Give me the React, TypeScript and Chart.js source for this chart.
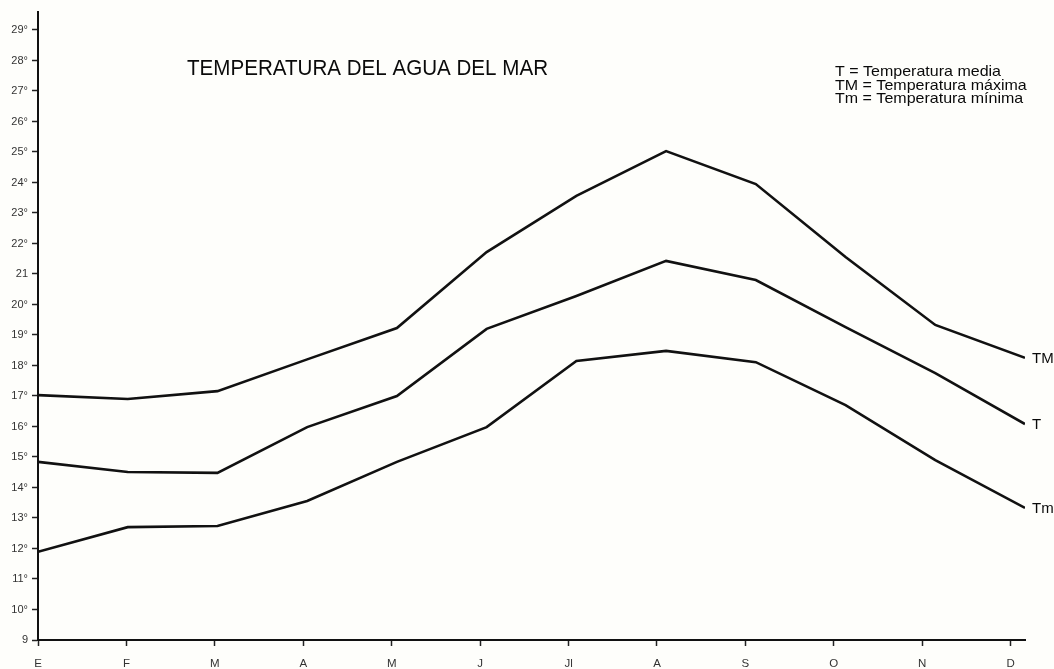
import React, { useEffect, useRef } from "react";
import { Chart, registerables } from "chart.js";

Chart.register(...registerables);

const months = ["E", "F", "M", "A", "M", "J", "Jl", "A", "S", "O", "N", "D"];
const tempMax = [17.03, 16.9, 17.16, 18.2, 19.23, 21.72, 23.56, 25.03, 23.95, 21.56, 19.33, 18.25];
const tempMedia = [14.84, 14.51, 14.48, 15.98, 17.0, 19.2, 20.28, 21.43, 20.8, 19.26, 17.75, 16.08];
const tempMin = [11.89, 12.7, 12.74, 13.56, 14.84, 15.98, 18.15, 18.48, 18.11, 16.7, 14.9, 13.33];
const seriesNames = ["TM", "T", "Tm"];
const yTickValues = [9, 10, 11, 12, 13, 14, 15, 16, 17, 18, 19, 20, 21, 22, 23, 24, 25, 26, 27, 28, 29];
const yTickLabels = ["9", "10°", "11°", "12°", "13°", "14°", "15°", "16°", "17°", "18°", "19°", "20°", "21", "22°", "23°", "24°", "25°", "26°", "27°", "28°", "29°"];
const title = "TEMPERATURA DEL AGUA DEL MAR";
const legendLines = ["T = Temperatura media", "TM = Temperatura máxima", "Tm = Temperatura mínima"];

const FONT = "'Liberation Sans', Arial, Helvetica, sans-serif";
const TICK_SPREAD = 0.9855;

export default function App() {
  const ref = useRef<HTMLCanvasElement | null>(null);

  useEffect(() => {
    const canvas = ref.current;
    if (!canvas) return;

    const decor = {
      id: "decor",
      beforeDraw(chart: any) {
        const ctx = chart.ctx;
        ctx.save();
        ctx.fillStyle = "#fefefb";
        ctx.fillRect(0, 0, chart.width, chart.height);
        ctx.restore();
      },
      afterDraw(chart: any) {
        const ctx = chart.ctx;
        ctx.save();
        ctx.fillStyle = "#0a0a0a";
        ctx.textBaseline = "alphabetic";
        ctx.textAlign = "left";
        // title, slightly condensed
        ctx.font = `22px ${FONT}`;
        const tw = ctx.measureText(title).width;
        ctx.save();
        ctx.translate(187, 75);
        ctx.scale(361 / tw, 1);
        ctx.fillText(title, 0, 0);
        ctx.restore();
        // legend
        ctx.font = `15px ${FONT}`;
        const lw = ctx.measureText(legendLines[0]).width;
        const k = 166 / lw;
        legendLines.forEach((t, i) => {
          ctx.save();
          ctx.translate(835, 76 + i * 13.5);
          ctx.scale(k, 1);
          ctx.fillText(t, 0, 0);
          ctx.restore();
        });
        // right end labels
        ctx.font = `15px ${FONT}`;
        ctx.textBaseline = "middle";
        chart.data.datasets.forEach((ds: any, di: number) => {
          const meta = chart.getDatasetMeta(di);
          const last = meta.data[meta.data.length - 1];
          ctx.fillText(seriesNames[di], last.x + 7, last.y + 1);
        });
        ctx.restore();
      },
    };

    const mk = (arr: number[]) => arr.map((v, i) => ({ x: i, y: v }));
    const lineStyle = {
      borderColor: "#111",
      borderWidth: 2.6,
      pointRadius: 0,
      tension: 0,
      fill: false,
    };

    const chart = new Chart(canvas, {
      type: "line",
      data: {
        datasets: [
          { label: "TM", data: mk(tempMax), ...lineStyle },
          { label: "T", data: mk(tempMedia), ...lineStyle },
          { label: "Tm", data: mk(tempMin), ...lineStyle },
        ],
      },
      options: {
        responsive: false,
        animation: false,
        layout: { padding: { top: 12, right: 29, left: 0, bottom: 0 } },
        plugins: { legend: { display: false }, tooltip: { enabled: false }, title: { display: false } },
        scales: {
          x: {
            type: "linear",
            min: 0,
            max: 11,
            afterBuildTicks: (s: any) => {
              s.ticks = months.map((_, i) => ({ value: i * TICK_SPREAD }));
            },
            afterFit: (s: any) => {
              s.height = 29;
            },
            border: { display: true, color: "#111", width: 2 },
            grid: {
              drawOnChartArea: false,
              drawTicks: true,
              tickLength: 6,
              tickWidth: 1.5,
              tickColor: "#222",
              color: "#222",
            },
            ticks: {
              autoSkip: false,
              maxRotation: 0,
              padding: 11,
              color: "#333",
              font: { family: FONT, size: 11.5 },
              callback: (_v: any, i: number) => months[i],
            },
          },
          y: {
            type: "linear",
            min: 9,
            max: 29.59,
            afterBuildTicks: (s: any) => {
              s.ticks = yTickValues.map((v) => ({ value: v }));
            },
            afterFit: (s: any) => {
              s.width = 38;
            },
            border: { display: true, color: "#111", width: 2 },
            grid: {
              drawOnChartArea: false,
              drawTicks: true,
              tickLength: 6,
              tickWidth: 1.5,
              tickColor: "#222",
              color: "#222",
            },
            ticks: {
              autoSkip: false,
              padding: 4,
              color: "#333",
              font: { family: FONT, size: 11 },
              callback: (_v: any, i: number) => yTickLabels[i],
            },
          },
        },
      },
      plugins: [decor],
    } as any);

    return () => chart.destroy();
  }, []);

  return (
    <div style={{ position: "absolute", left: 0, top: 0, width: 1054, height: 669 }}>
      <canvas ref={ref} width={1054} height={669} style={{ display: "block" }} />
    </div>
  );
}
